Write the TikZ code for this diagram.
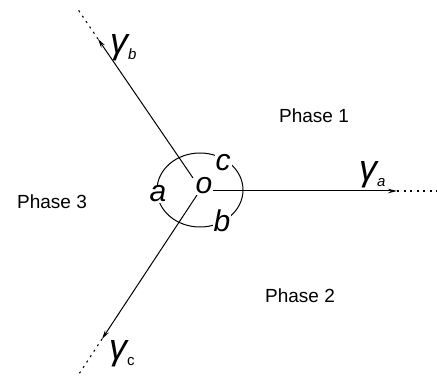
\documentclass[tikz,border=0pt]{standalone}
\usepackage{fontspec}
\setmainfont{Liberation Sans}
\usepackage{tikz}
\usetikzlibrary{arrows.meta}
\newcommand{\gsub}[1]{{\fontsize{36}{36}\selectfont\itshape γ}\raisebox{-6pt}{\fontsize{15}{15}\selectfont\itshape #1}}
\tikzset{
  ray/.style={line width=1pt,-{Stealth[length=9pt,width=4.5pt]}},
  tail/.style={line width=1.1pt,dash pattern=on 2pt off 4.5pt},
  loop/.style={line width=1pt},
  ang/.style={fill=white,inner sep=1pt,font=\fontsize{30}{32}\selectfont\itshape},
  lab/.style={inner sep=0pt,anchor=base west},
  phase/.style={inner sep=0pt,font=\fontsize{19}{21}\selectfont},
}
\begin{document}
\begin{tikzpicture}[x=1pt,y=-1pt]
\useasboundingbox (0,0) rectangle (437,379);
% rays out of the junction
\coordinate (sa) at (212,191);
\coordinate (ta) at (397,191);
\coordinate (ea) at (437,191);
\coordinate (sb) at (193,178);
\coordinate (tb) at (98,39);
\coordinate (eb) at (77,8);
\coordinate (sc) at (197,195);
\coordinate (tc) at (102,339);
\coordinate (ec) at (77,377);
\foreach \r in {a,b,c}{
  \draw[ray] (s\r) -- (t\r);
  \draw[tail] (t\r) -- (e\r);
}
% angles round the junction
\draw[loop] (200,190) ellipse [x radius=43pt,y radius=37pt];
\node[ang] (o) at (204,186) {o};
\node[ang] (aa) at (158,194) {a};
\node[ang] (ac) at (223,163) {c};
\node[ang] (ab) at (222,221) {b};
\node[lab] (ga) at (359,181) {\gsub{a}};
\node[lab] (gb) at (110,54) {\gsub{b}};
\node[lab] (gc) at (109,360) {\gsub{\upshape c}};
\node[phase] (p1) at (314,116) {Phase 1};
\node[phase] (p2) at (300,296) {Phase 2};
\node[phase] (p3) at (52,202) {Phase 3};
\end{tikzpicture}
\end{document}
